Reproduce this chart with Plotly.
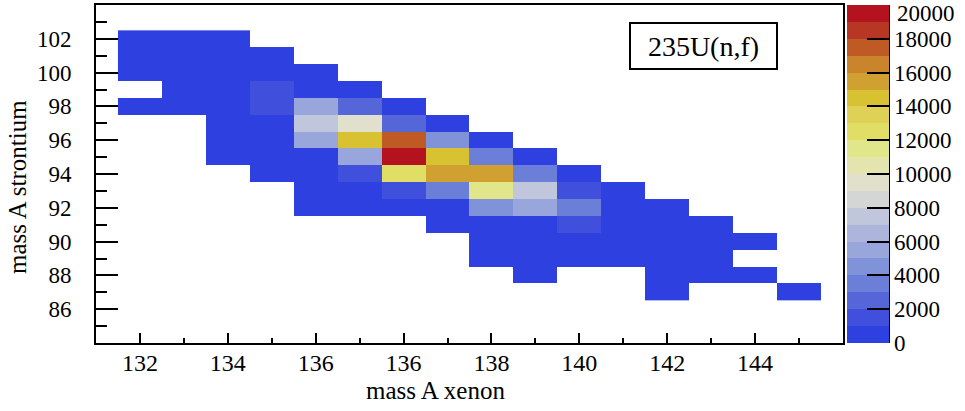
import plotly.graph_objects as go

# ---- data ----
xe_mass = [132, 133, 134, 135, 136, 137, 138, 139, 140, 141, 142, 143, 144, 145, 146, 147]
sr_mass = [87, 88, 89, 90, 91, 92, 93, 94, 95, 96, 97, 98, 99, 100, 101, 102]
N = None
sr087 = [N, N, N, N, N, N, N, N, N, N, N, N, 150, N, N, 100]
sr088 = [N, N, N, N, N, N, N, N, N, 200, N, N, 300, 250, 150, N]
sr089 = [N, N, N, N, N, N, N, N, 300, 550, 650, 600, 450, 300, N, N]
sr090 = [N, N, N, N, N, N, N, N, 500, 700, 800, 750, 600, 400, 250, N]
sr091 = [N, N, N, N, N, N, N, 400, 800, 950, 1400, 900, 700, 350, N, N]
sr092 = [N, N, N, N, 350, 600, 850, 950, 4600, 5700, 3500, 900, 500, N, N, N]
sr093 = [N, N, N, N, 600, 950, 1700, 3300, 11400, 7600, 1600, 600, N, N, N, N]
sr094 = [N, N, N, 500, 900, 1500, 12600, 15400, 15600, 3400, 800, N, N, N, N, N]
sr095 = [N, N, 300, 800, 950, 5500, 19600, 14400, 3600, 650, N, N, N, N, N, N]
sr096 = [N, N, 450, 900, 5600, 14600, 17400, 4500, 800, N, N, N, N, N, N, N]
sr097 = [N, N, 600, 950, 7400, 9600, 2400, 700, N, N, N, N, N, N, N, N]
sr098 = [300, 500, 900, 1600, 5400, 2600, 800, N, N, N, N, N, N, N, N, N]
sr099 = [N, 400, 850, 1400, 900, 700, N, N, N, N, N, N, N, N, N, N]
sr100 = [550, 800, 900, 850, 500, N, N, N, N, N, N, N, N, N, N, N]
sr101 = [700, 750, 800, 600, N, N, N, N, N, N, N, N, N, N, N, N]
sr102 = [600, 650, 550, N, N, N, N, N, N, N, N, N, N, N, N, N]

x_tickvals = [132, 134, 136, 138, 140, 142, 144, 146]
x_ticktext = ["132", "134", "136", "136", "138", "140", "142", "144"]
y_tickvals = [86, 88, 90, 92, 94, 96, 98, 100, 102]
z_tickvals = [0, 2000, 4000, 6000, 8000, 10000, 12000, 14000, 16000, 18000, 20000]
z_ticktext = ["0", "2000", "4000", "6000", "8000", "10000", "12000",
              "14000", "16000", "18000", "20000"]

palette = [
    "#2e40e0", "#4050dc", "#5466d8", "#6b7ed8", "#8092d8",
    "#98a6dc", "#adb5dc", "#c0c6dc", "#d4d6d6", "#e0e0cc",
    "#e3e4ae", "#e1e68a", "#e0de64", "#dfd155", "#d9c232",
    "#d0a030", "#c9842c", "#c05a24", "#b83624", "#b4121f",
]
colorscale = []
n = len(palette)
for i, c in enumerate(palette):
    colorscale.append([i / n, c])
    colorscale.append([(i + 1) / n, c])

z = [sr087, sr088, sr089, sr090, sr091, sr092, sr093, sr094,
     sr095, sr096, sr097, sr098, sr099, sr100, sr101, sr102]

FONT = "Liberation Serif, Times New Roman, serif"

# the top colour-bar label sits just below the bar top; draw it as an annotation
cb_ticktext = z_ticktext[:-1] + [""]

fig = go.Figure(go.Heatmap(
    x=xe_mass, y=sr_mass, z=z,
    zmin=0, zmax=20000,
    colorscale=colorscale,
    hoverinfo="skip",
    colorbar=dict(
        xref="container", x=847 / 965, xanchor="left", xpad=0,
        y=0.5, yanchor="middle", len=1, lenmode="fraction", ypad=0,
        thickness=42, thicknessmode="pixels",
        outlinewidth=0,
        tickvals=z_tickvals, ticktext=cb_ticktext,
        ticks="inside", ticklen=22, tickwidth=2, tickcolor="black",
        tickfont=dict(family=FONT, size=23, color="black"),
    ),
))

fig.update_xaxes(
    range=[131, 148], showgrid=False, zeroline=False,
    showline=True, linewidth=2, linecolor="black", mirror=True,
    tickvals=x_tickvals, ticktext=x_ticktext,
    ticks="inside", ticklen=10, tickwidth=2, tickcolor="black",
    minor=dict(ticks="inside", ticklen=5, dtick=1, tick0=131, tickwidth=2, tickcolor="black"),
    tickfont=dict(family=FONT, size=24, color="black"),
    ticklabelstandoff=-3,
)
fig.update_yaxes(
    range=[84, 104], showgrid=False, zeroline=False,
    showline=True, linewidth=2, linecolor="black", mirror=True,
    tickvals=y_tickvals,
    ticks="inside", ticklen=22, tickwidth=2, tickcolor="black",
    minor=dict(ticks="inside", ticklen=11, dtick=1, tick0=84, tickwidth=2, tickcolor="black"),
    tickfont=dict(family=FONT, size=23, color="black"),
    ticklabelstandoff=18,
)

W, H = 965, 411
L, R, T, B = 96, 122, 5, 68
pw, ph = W - L - R, H - T - B


def px2paper(px, py):
    return (px - L) / pw, (H - B - py) / ph


ax, ay = px2paper(435, 390)
bx, by = px2paper(17, 187)
tx, ty = px2paper(703, 45.5)
zx, zy = px2paper(895, 13)
cbx, _ = px2paper(889, 0)

fig.update_layout(
    width=W, height=H,
    margin=dict(l=L, r=R, t=T, b=B, autoexpand=False),
    paper_bgcolor="white", plot_bgcolor="white",
    font=dict(family=FONT, color="black"),
    annotations=[
        dict(text="mass A xenon", xref="paper", yref="paper", x=ax, y=ay,
             xanchor="center", yanchor="middle", showarrow=False,
             font=dict(family=FONT, size=25, color="black")),
        dict(text="mass A strontium", xref="paper", yref="paper", x=bx, y=by,
             xanchor="center", yanchor="middle", showarrow=False, textangle=-90,
             font=dict(family=FONT, size=25, color="black")),
        dict(text="235U(n,f)", xref="paper", yref="paper", x=tx, y=ty,
             xanchor="center", yanchor="middle", showarrow=False,
             width=145, height=44, borderpad=0, borderwidth=2,
             bordercolor="black", bgcolor="white",
             font=dict(family=FONT, size=28, color="black")),
        dict(text=z_ticktext[-1], xref="paper", yref="paper", x=zx, y=zy,
             xanchor="left", yanchor="middle", showarrow=False,
             font=dict(family=FONT, size=23, color="black")),
    ],
    shapes=[
        dict(type="line", xref="paper", yref="paper", x0=cbx, x1=cbx, y0=0, y1=1,
             line=dict(color="black", width=2)),
    ],
)

fig.write_html(
    "out.html",
    config={"displayModeBar": False, "staticPlot": True},
    post_script="document.body.style.margin='0';document.body.style.overflow='hidden';",
)
